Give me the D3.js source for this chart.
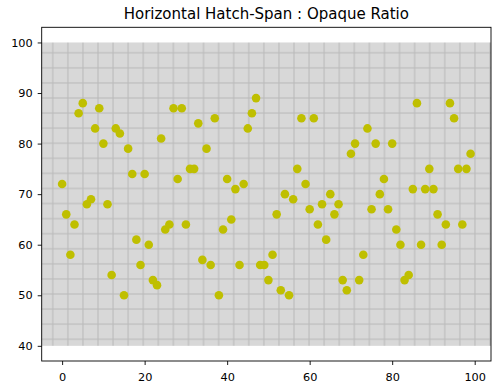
<!DOCTYPE html>
<html>
<head>
<meta charset="utf-8">
<script src="https://cdn.jsdelivr.net/npm/d3@7"></script>
<style>
  body { margin: 0; background: #fff; }
  svg { display: block; font-family: "DejaVu Sans", sans-serif; }
</style>
</head>
<body>
<svg id="chart"></svg>
<script>
// scatter values, x is just the index 0..99
var values = [72, 66, 58, 64, 86, 88, 68, 69, 83, 87,
  80, 68, 54, 83, 82, 50, 79, 74, 61, 56,
  74, 60, 53, 52, 81, 63, 64, 87, 73, 87,
  64, 75, 75, 84, 57, 79, 56, 85, 50, 63,
  73, 65, 71, 56, 72, 83, 86, 89, 56, 56,
  53, 58, 66, 51, 70, 50, 69, 75, 85, 72,
  67, 85, 64, 68, 61, 70, 66, 68, 53, 51,
  78, 80, 53, 58, 83, 67, 80, 70, 73, 67,
  80, 63, 60, 53, 54, 71, 88, 60, 71, 75,
  71, 66, 60, 64, 88, 85, 75, 64, 75, 78];
var span = [40, 100];
var xTicks = [0, 20, 40, 60, 80, 100];
var yTicks = [40, 50, 60, 70, 80, 90, 100];
var title = 'Horizontal Hatch-Span : Opaque Ratio';

var W = 500, H = 392;
var margin = {top: 27.3, right: 9, bottom: 31, left: 41.7};
var width = W - margin.left - margin.right,
  height = H - margin.top - margin.bottom;

var svg = d3.select('#chart').attr('width', W).attr('height', H);

// hatch '+' pattern, anchored at figure origin like matplotlib
var step = H / 26;
var defs = svg.append('defs');
var pat = defs.append('pattern')
  .attr('id', 'hatch')
  .attr('patternUnits', 'userSpaceOnUse')
  .attr('x', 0).attr('y', 0)
  .attr('width', step).attr('height', step);
pat.append('rect').attr('width', step).attr('height', step).attr('fill', '#d8d8d8');
pat.append('line').attr('x1', step / 2).attr('x2', step / 2).attr('y1', 0).attr('y2', step)
  .attr('stroke', '#bcbcbc').attr('stroke-width', 1.1);
pat.append('line').attr('y1', step / 2).attr('y2', step / 2).attr('x1', 0).attr('x2', step)
  .attr('stroke', '#bcbcbc').attr('stroke-width', 1.1);

var x = d3.scaleLinear().domain([-4.95, 103.95]).range([margin.left, margin.left + width]);
var y = d3.scaleLinear().domain([37, 103]).range([margin.top + height, margin.top]);

// the span
svg.append('rect')
  .attr('x', margin.left)
  .attr('width', width)
  .attr('y', y(span[1]))
  .attr('height', y(span[0]) - y(span[1]))
  .attr('fill', 'url(#hatch)');

// points
svg.append('g').selectAll('circle')
  .data(values)
  .enter().append('circle')
  .attr('cx', function (d, i) { return x(i); })
  .attr('cy', function (d) { return y(d); })
  .attr('r', 4.3)
  .attr('fill', '#bfbf00');

// axes
var xAxis = svg.append('g')
  .attr('transform', 'translate(0,' + (margin.top + height) + ')')
  .call(d3.axisBottom(x).tickValues(xTicks).tickSize(4).tickPadding(7.5));
var yAxis = svg.append('g')
  .attr('transform', 'translate(' + margin.left + ',0)')
  .call(d3.axisLeft(y).tickValues(yTicks).tickSize(4).tickPadding(5));
[xAxis, yAxis].forEach(function (a) {
  a.select('.domain').remove();
  a.selectAll('text').attr('font-size', 11.3).attr('fill', '#000').attr('font-family', '"DejaVu Sans", sans-serif');
  a.selectAll('line').attr('stroke', '#000').attr('stroke-width', 0.9);
});

// frame
svg.append('rect')
  .attr('x', margin.left).attr('y', margin.top)
  .attr('width', width).attr('height', height)
  .attr('fill', 'none').attr('stroke', '#000').attr('stroke-width', 0.9);

svg.append('text')
  .attr('x', margin.left + width / 2)
  .attr('y', margin.top - 8)
  .attr('text-anchor', 'middle')
  .attr('font-size', 15)
  .text(title);
</script>
</body>
</html>
